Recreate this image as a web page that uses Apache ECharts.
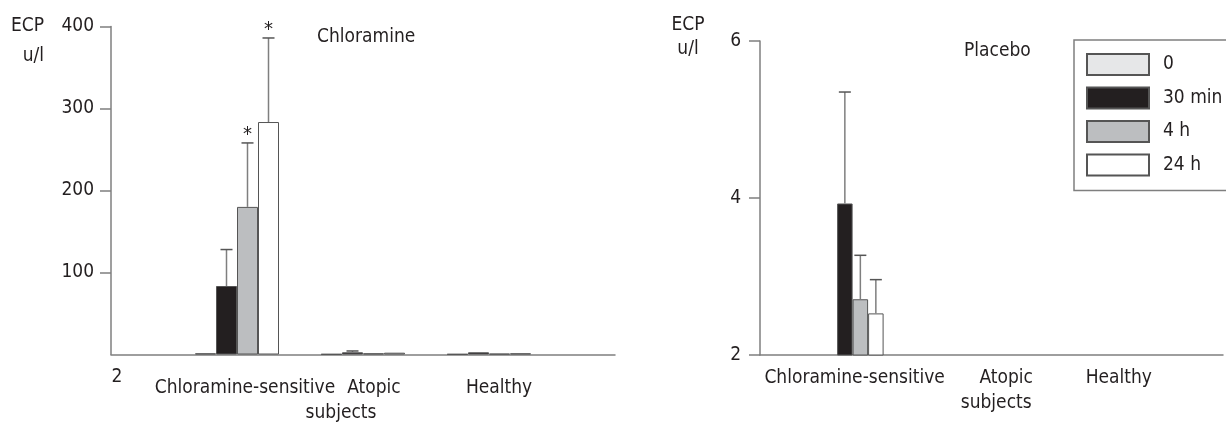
<!DOCTYPE html>
<html>
<head>
<meta charset="utf-8">
<script src="https://cdn.jsdelivr.net/npm/echarts@6/dist/echarts.min.js"></script>
<style>
  html, body { margin: 0; padding: 0; background: #fff; }
  #chart { width: 1226px; height: 424px; }
</style>
</head>
<body>
<div id="chart"></div>
<script>
const FONT = "'Liberation Sans Narrow', 'DejaVu Sans Condensed', 'DejaVu Sans', sans-serif";
const FS = 19;
const INK = '#231f20';
const AXIS = '#7f7f7f';

// Sampling times after the challenge
const timePoints = ['0', '30 min', '4 h', '24 h'];
const timeColors = ['#e6e7e8', '#231f20', '#bcbec0', '#ffffff'];

// Chloramine challenge: ECP, u/l (mean and upper error limit)
const chlCategories = ['2', 'Chloramine-sensitive', 'Atopic subjects', 'Healthy', ''];
const chlYTicks = [100, 200, 300, 400];
const chlT0 = [null, 1.5, 0.5, 0.5, null];
const chlT30 = [null, 83.5, 2.7, 2.7, null];
const chlT4 = [null, 180, 1.5, 1, null];
const chlT24 = [null, 283.5, 2.2, 1.5, null];
const chlT0Upper = [null, null, null, null, null];
const chlT30Upper = [null, 128, 4.3, null, null];
const chlT4Upper = [null, 258, null, null, null];
const chlT24Upper = [null, 386, null, null, null];
const chlT4Significant = [false, true, false, false, false];
const chlT24Significant = [false, true, false, false, false];

// Placebo challenge: ECP, u/l
const plaCategories = ['', 'Chloramine-sensitive', 'Atopic subjects', 'Healthy', '', ''];
const plaYTicks = [2, 4, 6];
const plaT0 = [null, null, null, null, null, null];
const plaT30 = [null, 3.93, null, null, null, null];
const plaT4 = [null, 2.71, null, null, null, null];
const plaT24 = [null, 2.53, null, null, null, null];
const plaT0Upper = [null, null, null, null, null, null];
const plaT30Upper = [null, 5.35, null, null, null, null];
const plaT4Upper = [null, 3.27, null, null, null, null];
const plaT24Upper = [null, 2.96, null, null, null, null];

const BAR_W = [21, 15.5];
const LINE_H = 25;

// Category label tweaks: horizontal shift per line, extra space above the first line
function labelFormatter(prefix) {
  return (val, i) => val
    ? val.split(' ').map((w, k) => `{${prefix}${i}_${k}|${w}}`).join('\n')
    : '';
}
function labelRich(prefix, shifts, padTop) {
  const rich = {};
  Object.keys(shifts).forEach(i => {
    shifts[i].forEach((dx, k) => {
      const top = k === 0 ? (padTop[i] || 0) : 0;
      rich[`${prefix}${i}_${k}`] = {
        padding: [top, dx < 0 ? -2 * dx : 0, 0, dx > 0 ? 2 * dx : 0],
        fontFamily: FONT, fontSize: FS, color: INK, lineHeight: LINE_H + top
      };
    });
  });
  return rich;
}

function barSeries(panel, lists) {
  return lists.map((data, s) => ({
    type: 'bar',
    name: timePoints[s],
    xAxisIndex: panel, yAxisIndex: panel,
    data,
    barWidth: BAR_W[panel],
    barGap: '0%',
    clip: true,
    silent: true,
    itemStyle: { color: timeColors[s], borderColor: '#555555', borderWidth: 1 }
  }));
}

function errorSeries(panel, values, uppers, marks) {
  const data = [];
  values.forEach((vals, slot) => vals.forEach((v, cat) => {
    const up = uppers[slot][cat];
    if (v != null && up != null) {
      data.push([cat, v, up, slot, marks[slot] && marks[slot][cat] ? 1 : 0]);
    }
  }));
  const bw = BAR_W[panel];
  return {
    type: 'custom',
    xAxisIndex: panel, yAxisIndex: panel,
    data,
    z: 5,
    silent: true,
    encode: { x: 0, y: [1, 2] },
    renderItem(params, api) {
      const cat = api.value(0), v = api.value(1), up = api.value(2);
      const slot = api.value(3), mark = api.value(4);
      const b = api.coord([cat, v]);
      const t = api.coord([cat, up]);
      const x = b[0] + (slot - 1.5) * bw;
      const st = { stroke: AXIS, lineWidth: 1.5 };
      const children = [
        { type: 'line', shape: { x1: x, y1: b[1], x2: x, y2: t[1] }, style: st },
        { type: 'line', shape: { x1: x - 6, y1: t[1], x2: x + 6, y2: t[1] }, style: { stroke: '#555', lineWidth: 1.5 } }
      ];
      if (mark) {
        children.push({
          type: 'text',
          style: { text: '*', x: x, y: t[1] - 18, align: 'center', verticalAlign: 'top',
                   fontFamily: FONT, fontSize: 20, fill: INK }
        });
      }
      return { type: 'group', children };
    }
  };
}

const valueLabel = { fontFamily: FONT, fontSize: FS, color: INK };
const plainText = { fontFamily: FONT, fontSize: FS, fill: INK, verticalAlign: 'top' };

const option = {
  animation: false,
  backgroundColor: '#ffffff',
  title: [
    { text: 'Chloramine', left: 317, top: 28, padding: 0,
      textStyle: { fontFamily: FONT, fontSize: FS, fontWeight: 'normal', color: INK } },
    { text: 'Placebo', left: 964, top: 42, padding: 0,
      textStyle: { fontFamily: FONT, fontSize: FS, fontWeight: 'normal', color: INK } }
  ],
  graphic: [
    { type: 'text', x: 44, y: 17, style: Object.assign({ text: 'ECP', align: 'right' }, plainText) },
    { type: 'text', x: 44, y: 47, style: Object.assign({ text: 'u/l', align: 'right' }, plainText) },
    { type: 'text', x: 688, y: 16, style: Object.assign({ text: 'ECP', align: 'center' }, plainText) },
    { type: 'text', x: 688, y: 40, style: Object.assign({ text: 'u/l', align: 'center' }, plainText) }
  ],
  legend: {
    data: timePoints,
    orient: 'vertical',
    left: 1074, top: 40,
    padding: [13, 30, 14, 12],
    itemWidth: 62, itemHeight: 21, itemGap: 10.5,
    icon: 'rect',
    selectedMode: false,
    borderColor: AXIS, borderWidth: 1.5,
    textStyle: { fontFamily: FONT, fontSize: FS, color: INK, padding: [0, 0, 0, 9] }
  },
  grid: [
    { left: 111, top: 26.5, width: 504, height: 328 },
    { left: 760, top: 41, width: 470, height: 314 }
  ],
  xAxis: [
    {
      type: 'category', gridIndex: 0, data: chlCategories, boundaryGap: false,
      axisLine: { lineStyle: { color: AXIS, width: 1.5 } },
      axisTick: { show: false },
      axisLabel: {
        interval: 0, margin: 10,
        formatter: labelFormatter('l'),
        rich: labelRich('l', { 0: [6], 1: [8], 2: [11, -22], 3: [10] }, { 1: 11, 2: 11, 3: 11 })
      }
    },
    {
      type: 'category', gridIndex: 1, data: plaCategories, boundaryGap: false,
      axisLine: { lineStyle: { color: AXIS, width: 1.5 } },
      axisTick: { show: false },
      axisLabel: {
        interval: 0, margin: 11,
        formatter: labelFormatter('r'),
        rich: labelRich('r', { 1: [2], 2: [61, 51], 3: [81] }, {})
      }
    }
  ],
  yAxis: [
    {
      type: 'value', gridIndex: 0, min: 0, max: 400, interval: 100,
      splitLine: { show: false },
      axisLine: { show: true, lineStyle: { color: AXIS, width: 1.5 } },
      axisTick: { show: true, length: 11, customValues: chlYTicks, lineStyle: { color: AXIS, width: 1.5 } },
      axisLabel: Object.assign({ margin: 17, customValues: chlYTicks }, valueLabel)
    },
    {
      type: 'value', gridIndex: 1, min: 2, max: 6, interval: 2,
      splitLine: { show: false },
      axisLine: { show: true, lineStyle: { color: AXIS, width: 1.5 } },
      axisTick: { show: true, length: 11, customValues: plaYTicks, lineStyle: { color: AXIS, width: 1.5 } },
      axisLabel: Object.assign({ margin: 19, customValues: plaYTicks }, valueLabel)
    }
  ],
  series: [
    ...barSeries(0, [chlT0, chlT30, chlT4, chlT24]),
    ...barSeries(1, [plaT0, plaT30, plaT4, plaT24]),
    errorSeries(0, [chlT0, chlT30, chlT4, chlT24],
                   [chlT0Upper, chlT30Upper, chlT4Upper, chlT24Upper],
                   [null, null, chlT4Significant, chlT24Significant]),
    errorSeries(1, [plaT0, plaT30, plaT4, plaT24],
                   [plaT0Upper, plaT30Upper, plaT4Upper, plaT24Upper],
                   [])
  ]
};

const chart = echarts.init(document.getElementById('chart'), null, { renderer: 'canvas' });
chart.setOption(option);
</script>
</body>
</html>
